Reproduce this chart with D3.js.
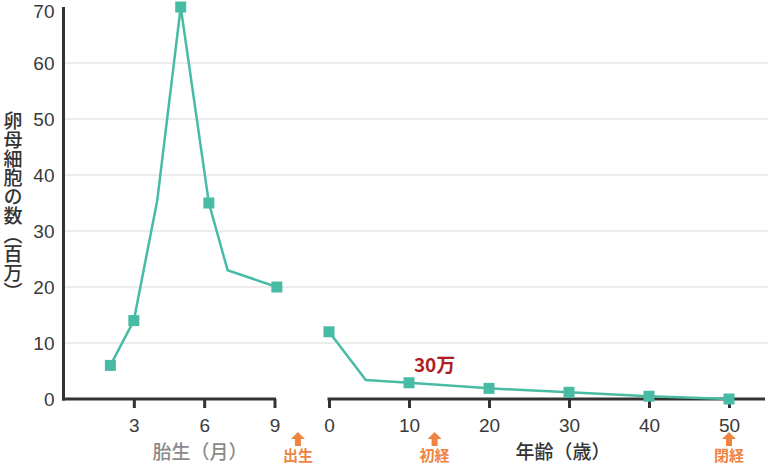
<!DOCTYPE html>
<html>
<head>
<meta charset="utf-8">
<script src="https://cdn.jsdelivr.net/npm/d3@7"></script>
<style>
html,body{margin:0;padding:0;background:#fff;}
svg{display:block;font-family:"Noto Sans CJK JP","Noto Sans",sans-serif;}
</style>
</head>
<body>
<svg id="chart" width="768" height="465"></svg>
<script>
// ---- data ----
const yTicks = [0,10,20,30,40,50,60,70];
const fetalTicks = [3,6,9];
const ageTicks = [0,10,20,30,40,50];
const fetalMonths = [2,3,4,5,6.2,7,9.1];
const fetalValues = [6,14,35.5,70,35,23,20];
const fetalMarked = [true,true,false,true,true,false,true];
const ageYears = [0,4.6,10,20,30,40,50];
const ageValues = [12,3.4,2.9,1.9,1.2,0.5,0];
const ageMarked = [true,false,true,true,true,true,true];
const yTitle = "卵母細胞の数（百万）";
const fetalTitle = "胎生（月）";
const ageTitle = "年齢（歳）";
const events = [{label:"出生", side:"fetal", at:10.0}, {label:"初経", side:"age", at:13.2}, {label:"閉経", side:"age", at:50}];
const note = {text:"30万", age:13.2, value:4.9};

// ---- layout ----
const svg = d3.select("#chart");
const teal = "#48BBA5", axisCol = "#333", orange = "#EE8440";
const y = d3.scaleLinear().domain([0,70]).range([399,7]);
const xL = d3.scaleLinear().domain([0,9]).range([63.5,274.5]);
const xR = d3.scaleLinear().domain([0,54.5]).range([329,765]);

// gridlines
svg.append("g").selectAll("line").data(yTicks.filter(d=>d>0 && d<70)).join("line")
  .attr("x1",63).attr("x2",768).attr("y1",d=>y(d)).attr("y2",d=>y(d))
  .attr("stroke","#e6e6e6").attr("stroke-width",1.5);

// y axis
const gy = svg.append("g").attr("transform","translate(63.5,0)")
  .call(d3.axisLeft(y).tickValues(yTicks).tickSize(0).tickPadding(9).tickSizeOuter(0));
gy.select(".domain").attr("stroke",axisCol).attr("stroke-width",3).attr("d","M0,"+(y(70))+"V"+(y(0)+1.5));
gy.selectAll("text").attr("font-size",19).attr("fill","#3a3a3a")
  .attr("dy",d=>d===70?"0.55em":"0.35em");

// bottom axes
function styleBottom(g){
  g.select(".domain").attr("stroke",axisCol).attr("stroke-width",3);
  g.selectAll(".tick line").attr("stroke",axisCol).attr("stroke-width",3);
  g.selectAll("text").attr("font-size",19).attr("fill","#3a3a3a").attr("dy","0.95em");
}
const gxl = svg.append("g").attr("transform","translate(0,399)")
  .call(d3.axisBottom(xL).tickValues(fetalTicks).tickSize(9).tickSizeOuter(0).tickPadding(6));
styleBottom(gxl);
gxl.select(".domain").attr("d","M"+(xL(0)-1.5)+",0H"+(xL(9)+1.5));
const gxr = svg.append("g").attr("transform","translate(0,399)")
  .call(d3.axisBottom(xR).tickValues(ageTicks).tickSize(9).tickSizeOuter(0).tickPadding(6));
styleBottom(gxr);
gxr.select(".domain").attr("d","M"+(xR(0)-1.5)+",0H"+xR.range()[1]);

// lines
const lineL = d3.line().x((d,i)=>xL(fetalMonths[i])).y(d=>y(d));
const lineR = d3.line().x((d,i)=>xR(ageYears[i])).y(d=>y(d));
svg.append("path").attr("d",lineL(fetalValues)).attr("fill","none").attr("stroke",teal).attr("stroke-width",2.5);
svg.append("path").attr("d",lineR(ageValues)).attr("fill","none").attr("stroke",teal).attr("stroke-width",2.5);

const ms = 11;
svg.append("g").selectAll("rect").data(fetalValues.map((v,i)=>({x:fetalMonths[i],v,m:fetalMarked[i]})).filter(d=>d.m)).join("rect")
  .attr("x",d=>xL(d.x)-ms/2).attr("y",d=>y(d.v)-ms/2).attr("width",ms).attr("height",ms).attr("fill",teal);
svg.append("g").selectAll("rect").data(ageValues.map((v,i)=>({x:ageYears[i],v,m:ageMarked[i]})).filter(d=>d.m)).join("rect")
  .attr("x",d=>xR(d.x)-ms/2).attr("y",d=>y(d.v)-ms/2).attr("width",ms).attr("height",ms).attr("fill",teal);

// y title vertical
svg.append("text").attr("x",13).attr("y",206).attr("text-anchor","middle")
  .attr("writing-mode","vertical-rl").attr("font-size",19).attr("font-weight",500).attr("fill","#333")
  .style("text-orientation","upright").text(yTitle);

// x titles
svg.append("text").attr("x",200).attr("y",459).attr("text-anchor","middle").attr("font-size",19)
  .attr("fill","#8a8a8a").attr("font-weight",500).text(fetalTitle);
svg.append("text").attr("x",563).attr("y",459).attr("text-anchor","middle").attr("font-size",19)
  .attr("fill","#333").attr("font-weight",500).text(ageTitle);

// events
events.forEach(e=>{
  const cx = e.side==="fetal" ? xL(e.at) : xR(e.at);
  const g = svg.append("g").attr("transform","translate("+cx+",0)");
  g.append("path").attr("d","M0,432L7,439H3V446H-3V439H-7Z").attr("fill",orange);
  g.append("text").attr("x",0).attr("y",461).attr("text-anchor","middle").attr("font-size",15)
    .attr("font-weight",700).attr("fill",orange).text(e.label);
});

// note
svg.append("text").attr("x",xR(note.age)).attr("y",y(note.value)).attr("text-anchor","middle")
  .attr("font-size",19).attr("font-weight",700).attr("fill","#B01E23").text(note.text);
</script>
</body>
</html>
